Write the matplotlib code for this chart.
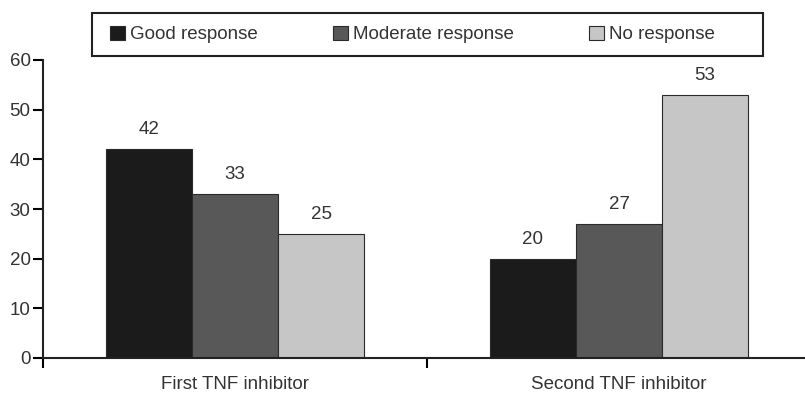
import numpy as np
import matplotlib
matplotlib.use("Agg")
import matplotlib.pyplot as plt
from matplotlib.patches import Rectangle

# response rates (%) after first and second TNF inhibitor
groups = ["First TNF inhibitor", "Second TNF inhibitor"]
series = ["Good response", "Moderate response", "No response"]
good = [42, 20]
moderate = [33, 27]
no_resp = [25, 53]
colors = ["#1b1b1b", "#585858", "#c6c6c6"]

plt.rcParams["font.family"] = ["Liberation Sans", "DejaVu Sans"]
txt = "#333333"
fs = 13.5

fig = plt.figure(figsize=(8.05, 3.97), dpi=100)
ax = fig.add_axes([43 / 805, 39 / 397, 768 / 805, 298 / 397])

x = np.arange(len(groups))
w = 0.224
for i, (vals, c, name) in enumerate(zip([good, moderate, no_resp], colors, series)):
    bars = ax.bar(x + (i - 1) * w, vals, w, color=c, edgecolor="#2a2a2a",
                  linewidth=0.8, label=name, zorder=2)
    for b, v in zip(bars, vals):
        ax.annotate(str(v), (b.get_x() + b.get_width() / 2, v),
                    xytext=(0, 8), textcoords="offset points",
                    ha="center", va="bottom", fontsize=fs, color=txt)

ax.set_xlim(-0.5, 1.5)
ax.set_ylim(0, 60)
ax.set_yticks(range(0, 61, 10))
ax.set_xticks([-0.5, 0.5, 1.5])
ax.set_xticklabels([])
ax.set_xticks(x, minor=True)
ax.set_xticklabels(groups, minor=True)
ax.tick_params(axis="x", which="minor", length=0, pad=13, labelsize=fs, labelcolor=txt)
ax.tick_params(axis="x", which="major", length=7, width=1.5, direction="out")
ax.tick_params(axis="y", length=7, width=1.5, direction="out", pad=2,
               labelsize=fs, labelcolor=txt)

for s in ["top", "right"]:
    ax.spines[s].set_visible(False)
for s in ["left", "bottom"]:
    ax.spines[s].set_linewidth(1.5)
    ax.spines[s].set_color("#222222")

# legend box across the top
fig.patches.append(Rectangle((92 / 805, 1 - 56 / 397), 671 / 805, 43 / 397,
                             transform=fig.transFigure, fill=False,
                             edgecolor="#222222", linewidth=1.5))
leg = fig.legend(loc="center left", bbox_to_anchor=(110 / 805, 1 - 34.5 / 397),
                 ncol=3, frameon=False, fontsize=fs, handlelength=0.8,
                 handleheight=0.8, handletextpad=0.27, columnspacing=4.0,
                 borderpad=0, borderaxespad=0)
for t in leg.get_texts():
    t.set_color(txt)

fig.savefig("out.png", dpi=100, facecolor="white")
